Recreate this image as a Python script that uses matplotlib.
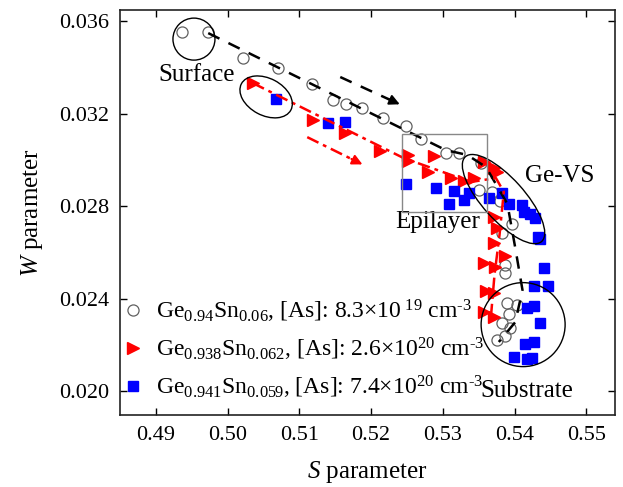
import matplotlib
matplotlib.use('Agg')
import matplotlib.pyplot as plt
import matplotlib.transforms as mtransforms
from matplotlib.patches import Ellipse, Rectangle

plt.rcParams['font.family'] = ['Liberation Serif', 'DejaVu Serif']
plt.rcParams['mathtext.fontset'] = 'custom'
plt.rcParams['mathtext.rm'] = 'Liberation Serif'
plt.rcParams['mathtext.it'] = 'Liberation Serif:italic'

# Ge0.94Sn0.06 (open circles)
s_a = [0.4936, 0.4973, 0.5022, 0.5070, 0.5118, 0.5147, 0.5165, 0.5188, 0.5216, 0.5249,
       0.5270, 0.5304, 0.5322, 0.5353, 0.5350, 0.5368, 0.5379, 0.5397, 0.5383, 0.5387,
       0.5387, 0.5390, 0.5404, 0.5392, 0.5383, 0.5393, 0.5386, 0.5376]
w_a = [0.03552, 0.03552, 0.03440, 0.03397, 0.03328, 0.03258, 0.03241, 0.03224, 0.03181, 0.03146,
       0.03090, 0.03029, 0.03029, 0.02986, 0.02869, 0.02861, 0.02822, 0.02722, 0.02683, 0.02545,
       0.02510, 0.02381, 0.02372, 0.02333, 0.02294, 0.02273, 0.02238, 0.02221]

# Ge0.938Sn0.062 (red triangles)
s_b = [0.5035, 0.5119, 0.5164, 0.5213, 0.5252, 0.5252, 0.5287, 0.5280, 0.5311, 0.5329,
       0.5343, 0.5357, 0.5371, 0.5376, 0.5371, 0.5376, 0.5371, 0.5387, 0.5357, 0.5373,
       0.5360, 0.5371, 0.5357, 0.5371]
w_b = [0.03332, 0.03172, 0.03116, 0.03038, 0.03021, 0.02995, 0.03016, 0.02947, 0.02921, 0.02908,
       0.02921, 0.02990, 0.02964, 0.02947, 0.02752, 0.02705, 0.02640, 0.02584, 0.02554, 0.02536,
       0.02433, 0.02424, 0.02342, 0.02320]

# Ge0.941Sn0.059 (blue squares)
s_c = [0.5068, 0.5140, 0.5163, 0.5248, 0.5291, 0.5315, 0.5309, 0.5329, 0.5336, 0.5364,
       0.5383, 0.5392, 0.5411, 0.5413, 0.5421, 0.5429, 0.5432, 0.5436, 0.5441, 0.5427,
       0.5447, 0.5418, 0.5427, 0.5436, 0.5414, 0.5427, 0.5399, 0.5417, 0.5424]
w_c = [0.03263, 0.03159, 0.03163, 0.02895, 0.02878, 0.02865, 0.02809, 0.02826, 0.02856, 0.02835,
       0.02856, 0.02809, 0.02804, 0.02774, 0.02765, 0.02748, 0.02666, 0.02657, 0.02532, 0.02454,
       0.02454, 0.02359, 0.02368, 0.02294, 0.02203, 0.02212, 0.02147, 0.02138, 0.02143]

labels = [r'Ge$_{\mathrm{0.94}}$Sn$_{\mathrm{0.06}}$, [As]: 8.3×10$^{\mathrm{\ 19}}$ cm$^{\mathrm{‐3}}$',
          r'Ge$_{\mathrm{0.938}}$Sn$_{\mathrm{0.062}}$, [As]: 2.6×10$^{\mathrm{20}}$ cm$^{\mathrm{‐3}}$',
          r'Ge$_{\mathrm{0.941}}$Sn$_{\mathrm{0.059}}$, [As]: 7.4×10$^{\mathrm{20}}$ cm$^{\mathrm{‐3}}$']

# guide curves
guide_a_s = [0.4973, 0.5304, 0.5334, 0.5360, 0.5374, 0.5390, 0.5401, 0.5411, 0.5401, 0.5378]
guide_a_w = [0.03548, 0.03042, 0.03021, 0.02969, 0.02895, 0.02809, 0.02618, 0.02437, 0.02298, 0.02212]
guide_b_s = [0.5035, 0.5245, 0.5339, 0.5374, 0.5385, 0.5379, 0.5372, 0.5367]
guide_b_w = [0.03332, 0.03008, 0.02904, 0.02921, 0.02861, 0.02675, 0.02502, 0.02320]

# direction arrows (start, end)
arrow_a = [(0.5157, 0.03358), (0.5240, 0.03240)]
arrow_b = [(0.5111, 0.03098), (0.5188, 0.02980)]

fig = plt.figure(figsize=(6.23, 4.87), dpi=100)
ax = fig.add_axes([0.1926, 0.1478, 0.7946, 0.8317])

ax.plot(s_a, w_a, 'o', ms=8, mfc='none', mec='#606060', mew=0.9, ls='none', label=labels[0], zorder=2)
ax.plot(s_b, w_b, '>', ms=9, color='red', ls='none', label=labels[1], zorder=2)
ax.plot(s_c, w_c, 's', ms=7, color='blue', ls='none', label=labels[2], zorder=2)

ax.plot(guide_a_s, guide_a_w, color='black', lw=1.8, ls=(0, (5, 4)), zorder=3)
ax.plot(guide_b_s, guide_b_w, color='red', lw=1.8, ls=(0, (5, 2, 1.5, 2)), zorder=3)

# arrows
(x0, y0), (x1, y1) = arrow_a
ax.plot([x0, x0 + 0.85 * (x1 - x0)], [y0, y0 + 0.85 * (y1 - y0)], color='black', lw=1.8, ls=(0, (5, 4)))
ax.annotate('', xy=(x1, y1), xytext=(x0 + 0.8 * (x1 - x0), y0 + 0.8 * (y1 - y0)),
            arrowprops=dict(arrowstyle='-|>', color='black', lw=1.5, mutation_scale=15,
                            shrinkA=0, shrinkB=0))
(x0, y0), (x1, y1) = arrow_b
ax.plot([x0, x0 + 0.85 * (x1 - x0)], [y0, y0 + 0.85 * (y1 - y0)], color='red', lw=1.8, ls=(0, (5, 2, 1.5, 2)))
ax.annotate('', xy=(x1, y1), xytext=(x0 + 0.8 * (x1 - x0), y0 + 0.8 * (y1 - y0)),
            arrowprops=dict(arrowstyle='-|>', color='red', lw=1.5, mutation_scale=15,
                            shrinkA=0, shrinkB=0))

# ellipses in inches around data centres
def ring(xc, yc, w, h, ang):
    tr = fig.dpi_scale_trans + mtransforms.ScaledTranslation(xc, yc, ax.transData)
    ax.add_patch(Ellipse((0, 0), w, h, angle=ang, transform=tr, fill=False, ec='black', lw=1.0, zorder=4))

ring(0.49531, 0.03522, 0.42, 0.42, 0)
ring(0.50537, 0.03272, 0.56, 0.37, -28)
ring(0.53846, 0.02830, 1.14, 0.42, -48)
ring(0.54119, 0.02287, 0.84, 0.84, 0)

ax.add_patch(Rectangle((0.52436, 0.02774), 0.01173, 0.00337, fill=False, ec='#888888', lw=1.0, zorder=4))

ax.text(0.49573, 0.03367, 'Surface', fontsize=18, ha='center', va='center')
ax.text(0.54629, 0.02930, 'Ge-VS', fontsize=18, ha='center', va='center')
ax.text(0.52925, 0.02731, 'Epilayer', fontsize=18, ha='center', va='center')
ax.text(0.54168, 0.02000, 'Substrate', fontsize=18, ha='center', va='center')

ax.set_xlim(0.485, 0.554)
ax.set_ylim(0.01896, 0.03648)
ax.set_xticks([0.49, 0.50, 0.51, 0.52, 0.53, 0.54, 0.55])
ax.set_xticklabels(['0.49', '0.50', '0.51', '0.52', '0.53', '0.54', '0.55'])
ax.set_yticks([0.020, 0.024, 0.028, 0.032, 0.036])
ax.set_yticklabels(['0.020', '0.024', '0.028', '0.032', '0.036'])
ax.tick_params(direction='in', length=5, width=1.0, top=True, right=True, labelsize=16, pad=8)
for sp in ax.spines.values():
    sp.set_linewidth(1.2)
    sp.set_color('#222222')

ax.set_xlabel(r'$\mathit{S}$ parameter', fontsize=18, labelpad=10)
ax.set_ylabel(r'$\mathit{W}$ parameter', fontsize=18, labelpad=10)

ax.legend(loc='lower left', bbox_to_anchor=(-0.03, -0.005), frameon=False, fontsize=17,
          handlelength=1.0, handletextpad=0.45, labelspacing=0.45, borderaxespad=0.3)

fig.savefig('out.png', dpi=100)
